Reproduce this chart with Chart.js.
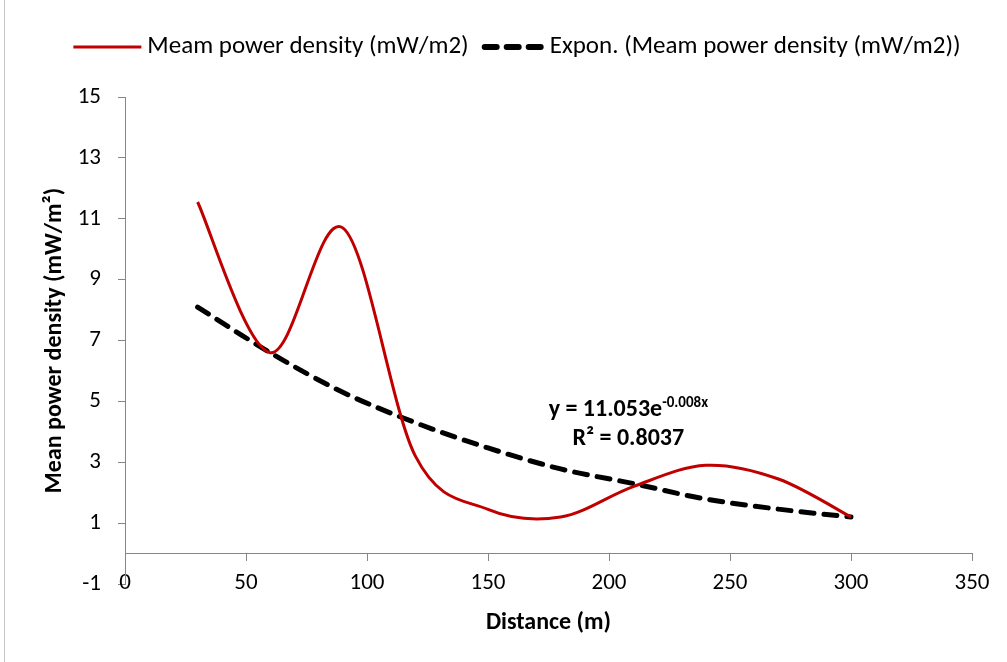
<!DOCTYPE html>
<html><head><meta charset="utf-8">
<script src="https://cdn.jsdelivr.net/npm/chart.js@4"></script>
<style>
html,body{margin:0;padding:0;background:#fff;}
#wrap{position:relative;width:1007px;height:662px;overflow:hidden;}
#wrap:before{content:'';position:absolute;left:4px;top:0;bottom:0;border-left:1px solid #c8c8c8;}
canvas{display:block;}
</style></head><body>
<div id="wrap"><canvas id="c" width="1007" height="662"></canvas></div>
<script>
const distances = [30, 60, 90, 120, 150, 180, 210, 240, 270, 300];
const meanPower = [11.55, 6.6, 10.7, 3.2, 1.45, 1.2, 2.2, 2.9, 2.45, 1.2];
const expTrend = [8.1, 6.6, 5.3, 4.3, 3.47, 2.78, 2.3, 1.79, 1.46, 1.2];
const xTicks = [0, 50, 100, 150, 200, 250, 300, 350];
const yTicks = [-1, 1, 3, 5, 7, 9, 11, 13, 15];
const seriesNames = ['Meam power density (mW/m2)', 'Expon. (Meam power density (mW/m2))'];
const xTitle = 'Distance (m)';
const yTitle = 'Mean power density (mW/m²)';
const eqMain = 'y = 11.053e';
const eqExp = '-0.008x';
const eqR2 = 'R² = 0.8037';
const eqAnchor = [208, 4.72, 3.75];

const FONT = 'Carlito, Lato, sans-serif';
const AXIS_GREY = '#868686';

const toPoints = (xs, ys) => xs.map((x, i) => ({x: x, y: ys[i]}));

// Excel-style smoothing: uniform Catmull-Rom control points on the library's own point positions
const smoothPlugin = {
  id: 'excelSmooth',
  beforeDatasetDraw(chart, args) {
    const meta = args.meta;
    const line = meta.dataset;
    if (!line) return;
    line.updateControlPoints(chart.chartArea, 'x');
    const pts = meta.data;
    const n = pts.length;
    for (let i = 0; i < n; i++) {
      const p = pts[i];
      const prev = pts[Math.max(i - 1, 0)];
      const next = pts[Math.min(i + 1, n - 1)];
      const dx = (next.x - prev.x) / 6, dy = (next.y - prev.y) / 6;
      p.cp1x = p.x - dx; p.cp1y = p.y - dy;
      p.cp2x = p.x + dx; p.cp2y = p.y + dy;
    }
    line._path = undefined;
  }
};

const legendPlugin = {
  id: 'customLegend',
  afterDraw(chart) {
    const ctx = chart.ctx;
    ctx.save();
    ctx.font = '25px ' + FONT;
    ctx.textBaseline = 'middle';
    const y = 47;
    const s1 = 68, g1 = 6, between = 13, s2 = 64, g2 = 4;
    const w1 = ctx.measureText(seriesNames[0]).width;
    const w2 = ctx.measureText(seriesNames[1]).width;
    const total = s1 + g1 + w1 + between + s2 + g2 + w2;
    let x = 517 - total / 2;
    ctx.strokeStyle = '#C00000'; ctx.lineWidth = 3; ctx.setLineDash([]);
    ctx.beginPath(); ctx.moveTo(x, y); ctx.lineTo(x + s1, y); ctx.stroke();
    x += s1 + g1;
    ctx.fillStyle = '#000'; ctx.fillText(seriesNames[0], x, y);
    x += w1 + between;
    ctx.strokeStyle = '#000'; ctx.lineWidth = 6; ctx.lineCap = 'round'; ctx.setLineDash([12, 10]);
    ctx.beginPath(); ctx.moveTo(x + 3, y); ctx.lineTo(x + s2, y); ctx.stroke();
    ctx.setLineDash([]);
    x += s2 + g2;
    ctx.fillText(seriesNames[1], x, y);
    ctx.restore();
  }
};

const equationPlugin = {
  id: 'equation',
  afterDatasetsDraw(chart) {
    const ctx = chart.ctx;
    const xs = chart.scales.x, ys = chart.scales.y;
    const cx = xs.getPixelForValue(eqAnchor[0]);
    const y1 = ys.getPixelForValue(eqAnchor[1]);
    const y2 = ys.getPixelForValue(eqAnchor[2]);
    ctx.save();
    ctx.fillStyle = '#000';
    ctx.textBaseline = 'middle';
    ctx.font = 'bold 24px ' + FONT;
    const wm = ctx.measureText(eqMain).width;
    ctx.font = 'bold 15px ' + FONT;
    const we = ctx.measureText(eqExp).width;
    let x = cx - (wm + we) / 2;
    ctx.font = 'bold 24px ' + FONT;
    ctx.textAlign = 'left';
    ctx.fillText(eqMain, x, y1);
    ctx.font = 'bold 15px ' + FONT;
    ctx.fillText(eqExp, x + wm, y1 - 7);
    ctx.font = 'bold 24px ' + FONT;
    ctx.textAlign = 'center';
    ctx.fillText(eqR2, cx, y2);
    ctx.restore();
  }
};

new Chart(document.getElementById('c'), {
  type: 'line',
  data: {
    datasets: [
      {
        label: seriesNames[0],
        data: toPoints(distances, meanPower),
        borderColor: '#C00000',
        borderWidth: 3,
        pointRadius: 0,
        tension: 0.4,
        fill: false
      },
      {
        label: seriesNames[1],
        data: toPoints(distances, expTrend),
        borderColor: '#000000',
        borderWidth: 5,
        borderDash: [13, 10],
        borderCapStyle: 'round',
        pointRadius: 0,
        tension: 0.4,
        fill: false
      }
    ]
  },
  options: {
    responsive: false,
    animation: false,
    devicePixelRatio: 1,
    layout: {padding: {top: 97, right: 35, bottom: 78, left: 0}},
    plugins: {legend: {display: false}, tooltip: {enabled: false}},
    scales: {
      x: {
        type: 'linear',
        position: {y: 0},
        min: 0, max: 350,
        afterBuildTicks(s) { s.ticks = xTicks.map(v => ({value: v})); },
        ticks: {color: '#000', font: {family: FONT, size: 23}, padding: 9, maxRotation: 0},
        grid: {drawOnChartArea: false, tickLength: 7, color: AXIS_GREY},
        border: {color: AXIS_GREY, width: 1},
        title: {display: true, text: xTitle, color: '#000', font: {family: FONT, size: 24, weight: 'bold'}, padding: {top: 2, bottom: 0}}
      },
      y: {
        type: 'linear',
        min: -1, max: 15,
        afterBuildTicks(s) { s.ticks = yTicks.map(v => ({value: v})); },
        afterFit(s) { s.width = 125; },
        ticks: {color: '#000', font: {family: FONT, size: 23}, padding: 17},
        grid: {drawOnChartArea: false, tickLength: 7, color: AXIS_GREY},
        border: {color: AXIS_GREY, width: 1},
        title: {display: true, text: yTitle, color: '#000', font: {family: FONT, size: 24, weight: 'bold'}, padding: {top: 41, bottom: 0}}
      }
    }
  },
  plugins: [smoothPlugin, legendPlugin, equationPlugin]
});
</script>
</body></html>
